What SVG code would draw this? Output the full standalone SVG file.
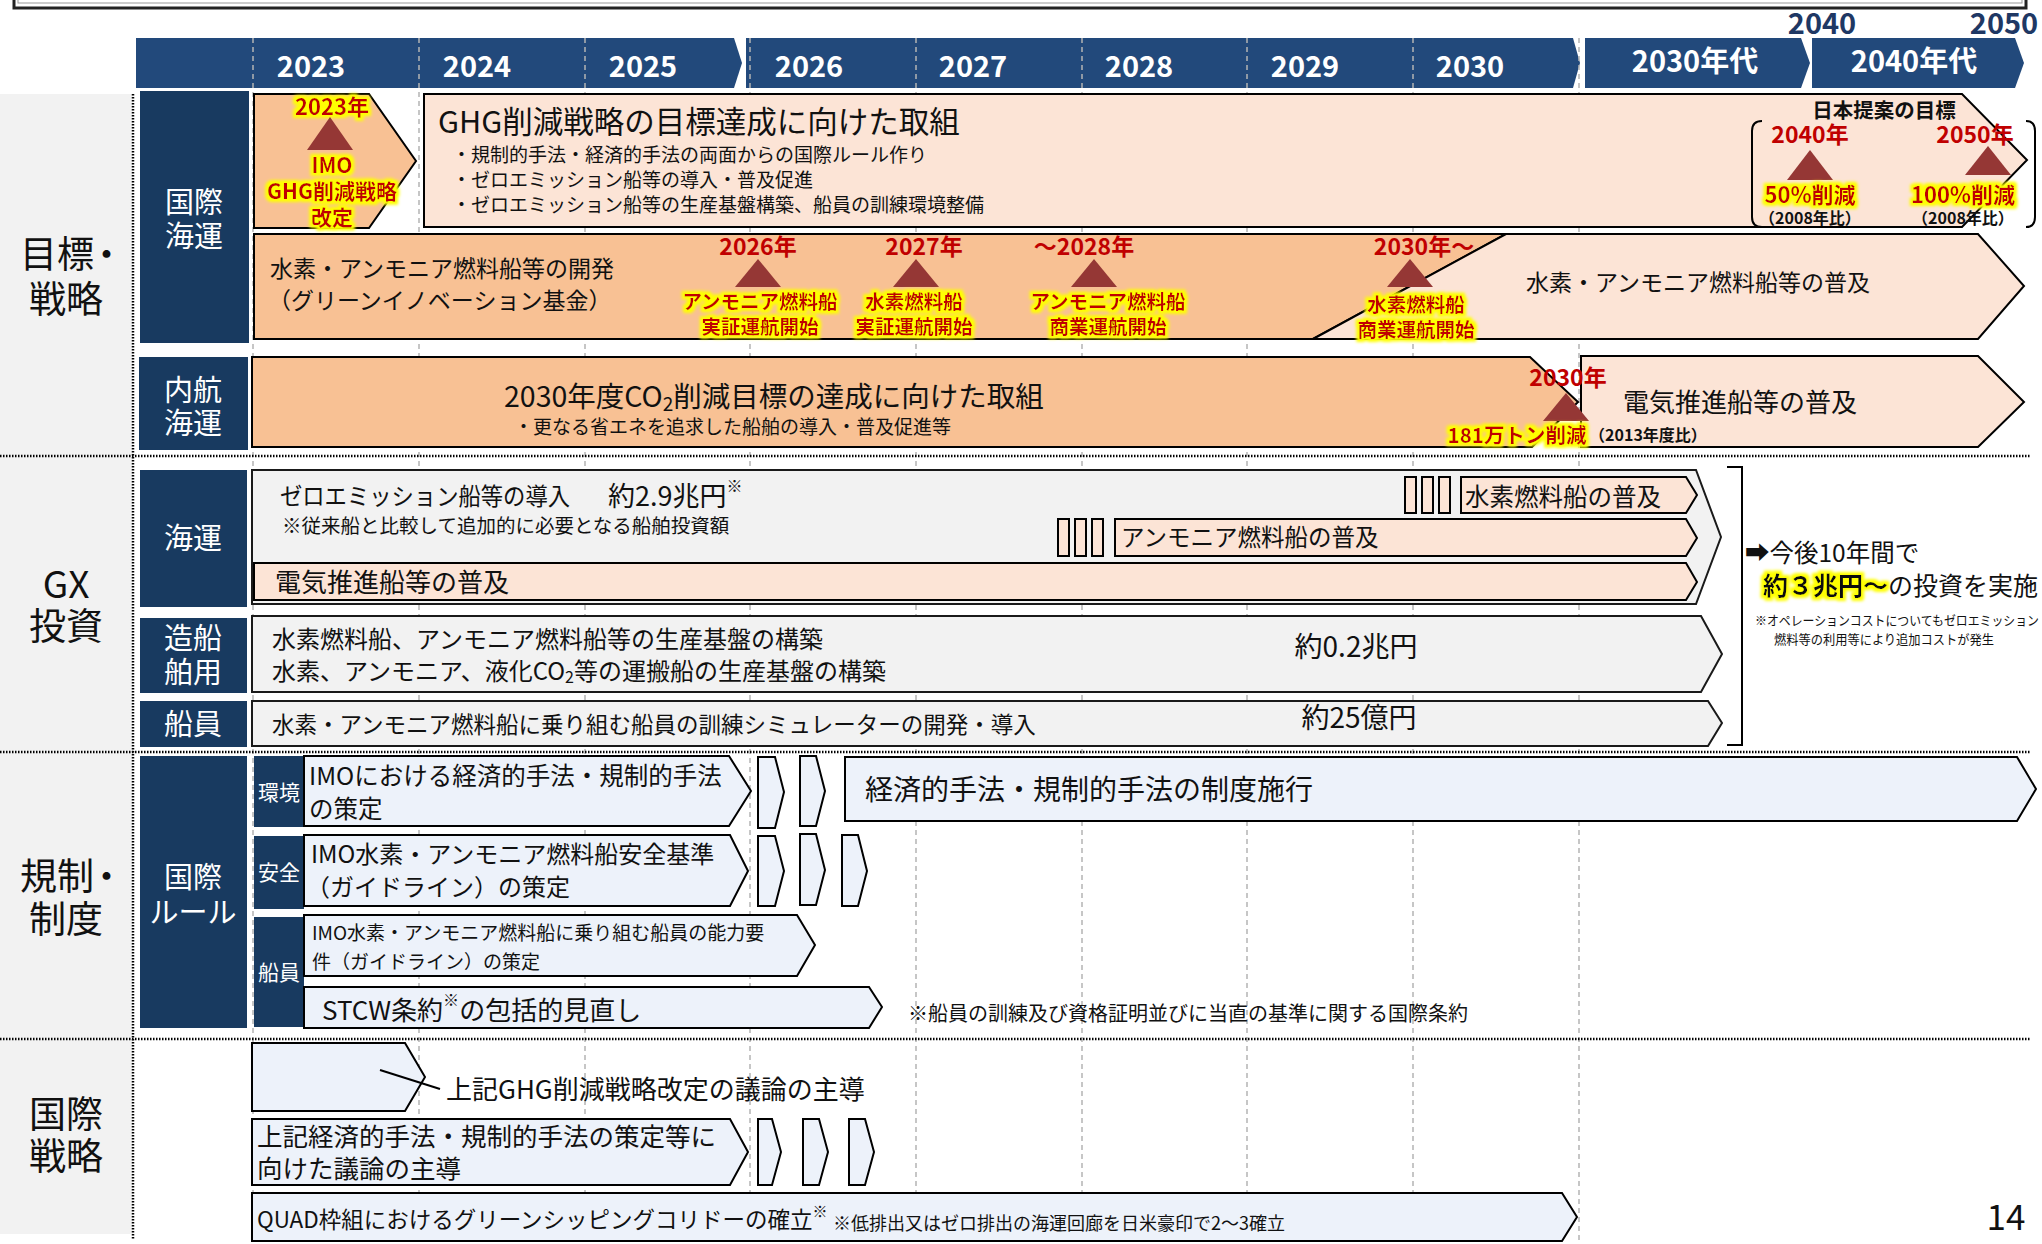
<svg xmlns="http://www.w3.org/2000/svg" width="2042" height="1244" viewBox="0 0 2042 1244">
<defs>
<style>
text{font-family:'Noto Sans CJK JP','Noto Sans','DejaVu Sans',sans-serif;dominant-baseline:central;fill:#111}
.m{text-anchor:middle}
.w{fill:#fff}
.b{font-weight:bold}
.r{fill:#c00000;font-weight:bold}
.nav{fill:#183a60}
.hdr{fill:#22497b}
.org{fill:#f8c194;stroke:#000;stroke-width:2}
.pale{fill:#fce4d6;stroke:#000;stroke-width:2}
.gry{fill:#f2f2f2;stroke:#1a1a1a;stroke-width:2}
.blu{fill:#edf2fa;stroke:#000;stroke-width:2}
.tri{fill:#953735}
.grid{stroke:#b4b4b4;stroke-width:1.5;stroke-dasharray:5 4;fill:none}
.sep{stroke:#000;stroke-width:2.5;stroke-dasharray:1.5 1.5;fill:none}
.hl{filter:url(#glow)}
</style>
<filter id="glow" x="-20%" y="-40%" width="140%" height="180%">
<feMorphology in="SourceAlpha" operator="dilate" radius="2.5" result="d"/>
<feGaussianBlur in="d" stdDeviation="1.6" result="bl"/>
<feFlood flood-color="#ffff00"/>
<feComposite in2="bl" operator="in" result="g"/>
<feMerge><feMergeNode in="g"/><feMergeNode in="SourceGraphic"/></feMerge>
</filter>
</defs>
<rect width="2042" height="1244" fill="#fff"/>
<g id="title-box">
<rect x="14" y="-20" width="2012" height="28" fill="#fff" stroke="#222" stroke-width="3"/>
<rect x="18" y="-20" width="2004" height="23" fill="none" stroke="#999" stroke-width="1"/>
</g>
<g id="left-column">
<rect x="0" y="94" width="133" height="1140" fill="#f2f2f2"/>
<line x1="133" y1="94" x2="133" y2="1240" class="sep"/>
<text x="20" y="252" font-size="37">目標<tspan dx="-6">・</tspan></text>
<text class="m" x="66" y="297" font-size="37">戦略</text>
<text class="m" x="66" y="582" font-size="37">GX</text>
<text class="m" x="66" y="624" font-size="37">投資</text>
<text x="20" y="874" font-size="37">規制<tspan dx="-6">・</tspan></text>
<text class="m" x="66" y="917" font-size="37">制度</text>
<text class="m" x="66" y="1112" font-size="37">国際</text>
<text class="m" x="66" y="1154" font-size="37">戦略</text>
</g>
<g id="header">
<polygon class="hdr" points="136,38 734,38 742,63 734,88 136,88"/>
<polygon class="hdr" points="746,38 1573,38 1580,63 1573,88 746,88"/>
<polygon class="hdr" points="1585,38 1801,38 1810,63 1801,88 1585,88"/>
<polygon class="hdr" points="1812,38 2015,38 2024,63 2015,88 1812,88"/>
<text class="m b" x="1822" y="21" font-size="29" style="fill:#1f3864">2040</text>
<text class="m b" x="2004" y="21" font-size="29" style="fill:#1f3864">2050</text>
</g>
<g id="grid">
<line class="grid" x1="253" y1="38" x2="253" y2="1244"/>
<line class="grid" x1="419" y1="38" x2="419" y2="1244"/>
<line class="grid" x1="585" y1="38" x2="585" y2="1244"/>
<line class="grid" x1="750" y1="38" x2="750" y2="1244"/>
<line class="grid" x1="916" y1="38" x2="916" y2="1244"/>
<line class="grid" x1="1082" y1="38" x2="1082" y2="1244"/>
<line class="grid" x1="1247" y1="38" x2="1247" y2="1244"/>
<line class="grid" x1="1413" y1="38" x2="1413" y2="1244"/>
<line class="grid" x1="1579" y1="38" x2="1579" y2="1244"/>
<line class="sep" x1="0" y1="456" x2="2030" y2="456"/>
<line class="sep" x1="0" y1="752" x2="2030" y2="752"/>
<line class="sep" x1="0" y1="1039" x2="2030" y2="1039"/>
</g>
<g id="header-years">
<text class="m b w" x="311" y="64" font-size="29">2023</text>
<text class="m b w" x="477" y="64" font-size="29">2024</text>
<text class="m b w" x="643" y="64" font-size="29">2025</text>
<text class="m b w" x="809" y="64" font-size="29">2026</text>
<text class="m b w" x="973" y="64" font-size="29">2027</text>
<text class="m b w" x="1139" y="64" font-size="29">2028</text>
<text class="m b w" x="1305" y="64" font-size="29">2029</text>
<text class="m b w" x="1470" y="64" font-size="29">2030</text>
<text class="m b w" x="1695" y="59" font-size="29">2030年代</text>
<text class="m b w" x="1914" y="59" font-size="29">2040年代</text>
</g>

<g id="label-kokusai-kaiun">
<rect class="nav" x="140" y="91" width="109" height="252"/>
<text class="m w" x="194" y="200" font-size="29">国際</text>
<text class="m w" x="194" y="234" font-size="29">海運</text>
</g>
<g id="label-naiko-kaiun">
<rect class="nav" x="139" y="357" width="109" height="93"/>
<text class="m w" x="193" y="388" font-size="29">内航</text>
<text class="m w" x="193" y="421" font-size="29">海運</text>
</g>

<g id="node-imo-2023">
<polygon class="org" points="254,94 369,94 416,161 369,228 254,228"/>
<text class="m r hl" x="332" y="105" font-size="22">2023年</text>
<polygon class="tri" points="330,117 353,150 307,150"/>
<text class="m r hl" x="332" y="164" font-size="21">IMO</text>
<text class="m r hl" x="332" y="190" font-size="21">GHG削減戦略</text>
<text class="m r hl" x="332" y="216" font-size="21">改定</text>
</g>
<g id="node-ghg-strategy">
<polygon class="pale" points="424,94 1962,94 2027,160 1962,227 424,227"/>
<text x="438" y="120" font-size="30.5">GHG削減戦略の目標達成に向けた取組</text>
<text x="452" y="153" font-size="19">・規制的手法・経済的手法の両面からの国際ルール作り</text>
<text x="452" y="178" font-size="19">・ゼロエミッション船等の導入・普及促進</text>
<text x="452" y="203" font-size="19">・ゼロエミッション船等の生産基盤構築、船員の訓練環境整備</text>
<text class="m b" x="1884" y="109" font-size="20.5">日本提案の目標</text>
<path d="M1762,121 Q1752,121 1752,131 L1752,217 Q1752,227 1762,227" fill="none" stroke="#000" stroke-width="2"/>
<path d="M2026,121 Q2035,121 2035,131 L2035,217 Q2035,227 2026,227" fill="none" stroke="#000" stroke-width="2"/>
<text class="m r" x="1810" y="133" font-size="23">2040年</text>
<text class="m r" x="1975" y="133" font-size="23">2050年</text>
<polygon class="tri" points="1810,150 1833,180 1787,180"/>
<polygon class="tri" points="1988,146 2011,175 1965,175"/>
<text class="m r hl" x="1810" y="193" font-size="22">50%削減</text>
<text class="m r hl" x="1963" y="193" font-size="22">100%削減</text>
<text class="m b" x="1810" y="217" font-size="16">（2008年比）</text>
<text class="m b" x="1963" y="217" font-size="16">（2008年比）</text>
</g>
<g id="node-fuel-dev">
<polygon class="org" points="254,234 1506,234 1313,339 254,339"/>
<text x="270" y="267" font-size="23">水素・アンモニア燃料船等の開発</text>
<text x="268" y="299" font-size="23">（グリーンイノベーション基金）</text>
<text class="m r" x="758" y="245" font-size="23">2026年</text>
<polygon class="tri" points="758,259 781,287 735,287"/>
<text class="m r hl" x="760" y="300" font-size="19.5">アンモニア燃料船</text>
<text class="m r hl" x="760" y="325" font-size="19.5">実証運航開始</text>
<text class="m r" x="924" y="245" font-size="23">2027年</text>
<polygon class="tri" points="916,259 939,287 893,287"/>
<text class="m r hl" x="914" y="300" font-size="19.5">水素燃料船</text>
<text class="m r hl" x="914" y="325" font-size="19.5">実証運航開始</text>
<text class="m r" x="1084" y="245" font-size="23">～2028年</text>
<polygon class="tri" points="1094,259 1117,287 1071,287"/>
<text class="m r hl" x="1108" y="300" font-size="19.5">アンモニア燃料船</text>
<text class="m r hl" x="1108" y="325" font-size="19.5">商業運航開始</text>
</g>
<g id="node-fuel-spread">
<polygon class="pale" points="1506,234 1978,234 2024,286 1978,339 1313,339"/>
<text class="m" x="1698" y="281" font-size="23">水素・アンモニア燃料船等の普及</text>
<text class="m r" x="1424" y="245" font-size="23">2030年～</text>
<polygon class="tri" points="1410,259 1433,287 1387,287"/>
<text class="m r hl" x="1416" y="303" font-size="19.5">水素燃料船</text>
<text class="m r hl" x="1416" y="328" font-size="19.5">商業運航開始</text>
</g>
<g id="node-naiko-co2">
<polygon class="org" points="252,357 1530,357 1578,402 1532,447 252,447"/>
<text x="504" y="394" font-size="28.5">2030年度CO<tspan font-size="19" dy="8">2</tspan><tspan dy="-8">削減目標の達成に向けた取組</tspan></text>
<text x="514" y="425" font-size="19">・更なる省エネを追求した船舶の導入・普及促進等</text>
</g>
<g id="node-electric-spread">
<polygon class="pale" points="1581,356 1978,356 2024,402 1978,447 1581,447"/>
<text class="m" x="1740" y="400" font-size="26">電気推進船等の普及</text>
</g>
<g id="milestone-2030-naiko">
<text class="m r" x="1568" y="376" font-size="23">2030年</text>
<polygon class="tri" points="1566,393 1589,421 1543,421"/>
<text class="m r hl" x="1517" y="434" font-size="20.5">181万トン削減</text>
<text class="m b" x="1648" y="434" font-size="16">（2013年度比）</text>
</g>

<g id="label-gx-kaiun">
<rect class="nav" x="140" y="470" width="107" height="137"/>
<text class="m w" x="193" y="536" font-size="29">海運</text>
</g>
<g id="label-zosen">
<rect class="nav" x="140" y="618" width="107" height="75"/>
<text class="m w" x="193" y="636" font-size="29">造船</text>
<text class="m w" x="193" y="670" font-size="29">舶用</text>
</g>
<g id="label-sen-in">
<rect class="nav" x="140" y="701" width="107" height="46"/>
<text class="m w" x="193" y="722" font-size="29">船員</text>
</g>
<g id="node-gx-kaiun">
<polygon class="gry" points="252,470 1696,470 1721,537 1696,604 252,604"/>
<text x="280" y="494" font-size="24" textLength="290" lengthAdjust="spacingAndGlyphs">ゼロエミッション船等の導入</text>
<text x="608" y="494" font-size="27">約2.9兆円<tspan font-size="16" dy="-9">※</tspan></text>
<text x="282" y="524" font-size="19.5">※従来船と比較して追加的に必要となる船舶投資額</text>
</g>
<g id="node-h2-spread">
<rect x="1405" y="477" width="11" height="36" class="pale"/>
<rect x="1422" y="477" width="11" height="36" class="pale"/>
<rect x="1439" y="477" width="11" height="36" class="pale"/>
<polygon class="pale" points="1461,477 1686,477 1697,495 1686,513 1461,513"/>
<text x="1465" y="495" font-size="24.5">水素燃料船の普及</text>
</g>
<g id="node-nh3-spread">
<rect x="1058" y="519" width="11" height="37" class="pale"/>
<rect x="1075" y="519" width="11" height="37" class="pale"/>
<rect x="1092" y="519" width="11" height="37" class="pale"/>
<polygon class="pale" points="1115,519 1686,519 1697,538 1686,556 1115,556"/>
<text x="1121" y="536" font-size="23.5">アンモニア燃料船の普及</text>
</g>
<g id="node-elec-gx">
<polygon class="pale" points="254,563 1686,563 1697,582 1686,600 254,600"/>
<text x="275" y="580" font-size="26">電気推進船等の普及</text>
</g>
<g id="node-zosen">
<polygon class="gry" points="252,616 1701,616 1722,654 1701,692 252,692"/>
<text x="272" y="637" font-size="24">水素燃料船、アンモニア燃料船等の生産基盤の構築</text>
<text x="272" y="669" font-size="24">水素、アンモニア、液化CO<tspan font-size="16" dy="7">2</tspan><tspan dy="-7">等の運搬船の生産基盤の構築</tspan></text>
<text class="m" x="1356" y="645" font-size="28">約0.2兆円</text>
</g>
<g id="node-simulator">
<polygon class="gry" points="252,701 1708,701 1722,723 1708,746 252,746"/>
<text x="272" y="723" font-size="22.5">水素・アンモニア燃料船に乗り組む船員の訓練シミュレーターの開発・導入</text>
<text class="m" x="1359" y="716" font-size="28">約25億円</text>
</g>
<g id="node-gx-summary">
<path d="M1727,467 L1742,467 L1742,745 L1727,745" fill="none" stroke="#000" stroke-width="2"/>
<text x="1745" y="551" font-size="24.5">➡今後10年間で</text>
<text x="1763" y="584" font-size="25"><tspan class="b hl">約３兆円～</tspan>の投資を実施</text>
<text x="1755" y="619" font-size="13" textLength="284" lengthAdjust="spacingAndGlyphs">※オペレーションコストについてもゼロエミッション</text>
<text class="m" x="1884" y="638" font-size="13" textLength="220" lengthAdjust="spacingAndGlyphs">燃料等の利用等により追加コストが発生</text>
</g>

<g id="label-kokusai-rule">
<rect class="nav" x="140" y="756" width="107" height="272"/>
<text class="m w" x="193" y="875" font-size="29">国際</text>
<text class="m w" x="193" y="910" font-size="29">ルール</text>
</g>
<g id="label-kankyo">
<rect class="nav" x="254" y="756" width="50" height="71"/>
<text class="m w" x="279" y="791" font-size="21">環境</text>
</g>
<g id="label-anzen">
<rect class="nav" x="254" y="836" width="50" height="73"/>
<text class="m w" x="279" y="871" font-size="21">安全</text>
</g>
<g id="label-sen-in-rule">
<rect class="nav" x="254" y="917" width="50" height="110"/>
<text class="m w" x="279" y="971" font-size="21">船員</text>
</g>
<g id="node-imo-econ">
<polygon class="blu" points="304,756 729,756 751,791 729,826 304,826"/>
<text x="309" y="774" font-size="24.5">IMOにおける経済的手法・規制的手法</text>
<text x="309" y="807" font-size="24.5">の策定</text>
<polygon class="blu" points="758,757 775,757 784,792 775,828 758,828"/>
<polygon class="blu" points="800,756 816,756 825,791 816,826 800,826"/>
</g>
<g id="node-econ-enforce">
<polygon class="blu" points="845,757 2017,757 2036,789 2017,821 845,821"/>
<text x="865" y="788" font-size="28">経済的手法・規制的手法の制度施行</text>
</g>
<g id="node-imo-safety">
<polygon class="blu" points="304,835 730,835 748,871 730,906 304,906"/>
<text x="311" y="852" font-size="24">IMO水素・アンモニア燃料船安全基準</text>
<text x="306" y="885" font-size="24">（ガイドライン）の策定</text>
<polygon class="blu" points="758,836 775,836 784,871 775,906 758,906"/>
<polygon class="blu" points="800,834 816,834 825,870 816,905 800,905"/>
<polygon class="blu" points="842,835 858,835 867,871 858,906 842,906"/>
</g>
<g id="node-imo-crew">
<polygon class="blu" points="304,915 797,915 815,945 797,976 304,976"/>
<text x="312" y="931" font-size="19">IMO水素・アンモニア燃料船に乗り組む船員の能力要</text>
<text x="312" y="960" font-size="19">件（ガイドライン）の策定</text>
</g>
<g id="node-stcw">
<polygon class="blu" points="304,987 869,987 882,1007 869,1028 304,1028"/>
<text x="322" y="1008" font-size="26">STCW条約<tspan font-size="16" dy="-9">※</tspan><tspan dy="9">の包括的見直し</tspan></text>
<text x="908" y="1012" font-size="20">※船員の訓練及び資格証明並びに当直の基準に関する国際条約</text>
</g>

<g id="node-lead-ghg">
<polygon class="blu" points="252,1043 405,1043 425,1077 405,1111 252,1111"/>
<text x="446" y="1087" font-size="26">上記GHG削減戦略改定の議論の主導</text>
</g>
<g id="node-lead-econ">
<polygon class="blu" points="252,1119 730,1119 748,1152 730,1185 252,1185"/>
<text x="257" y="1134" font-size="25.5">上記経済的手法・規制的手法の策定等に</text>
<text x="257" y="1166" font-size="25.5">向けた議論の主導</text>
<polygon class="blu" points="758,1119 772,1119 781,1152 772,1185 758,1185"/>
<polygon class="blu" points="803,1119 819,1119 828,1152 819,1185 803,1185"/>
<polygon class="blu" points="849,1119 865,1119 874,1152 865,1185 849,1185"/>
</g>
<g id="node-quad">
<polygon class="blu" points="252,1193 1562,1193 1577,1217 1562,1241 252,1241"/>
<text x="257" y="1218" font-size="22.5">QUAD枠組におけるグリーンシッピングコリドーの確立<tspan font-size="15" dy="-8">※</tspan></text>
<text x="833" y="1222" font-size="18">※低排出又はゼロ排出の海運回廊を日米豪印で2～3確立</text>
</g>
<g id="connectors">
<line x1="380" y1="1070" x2="440" y2="1089" stroke="#000" stroke-width="2"/>
</g>
<text class="m" x="2006" y="1214" font-size="35">14</text>
</svg>
